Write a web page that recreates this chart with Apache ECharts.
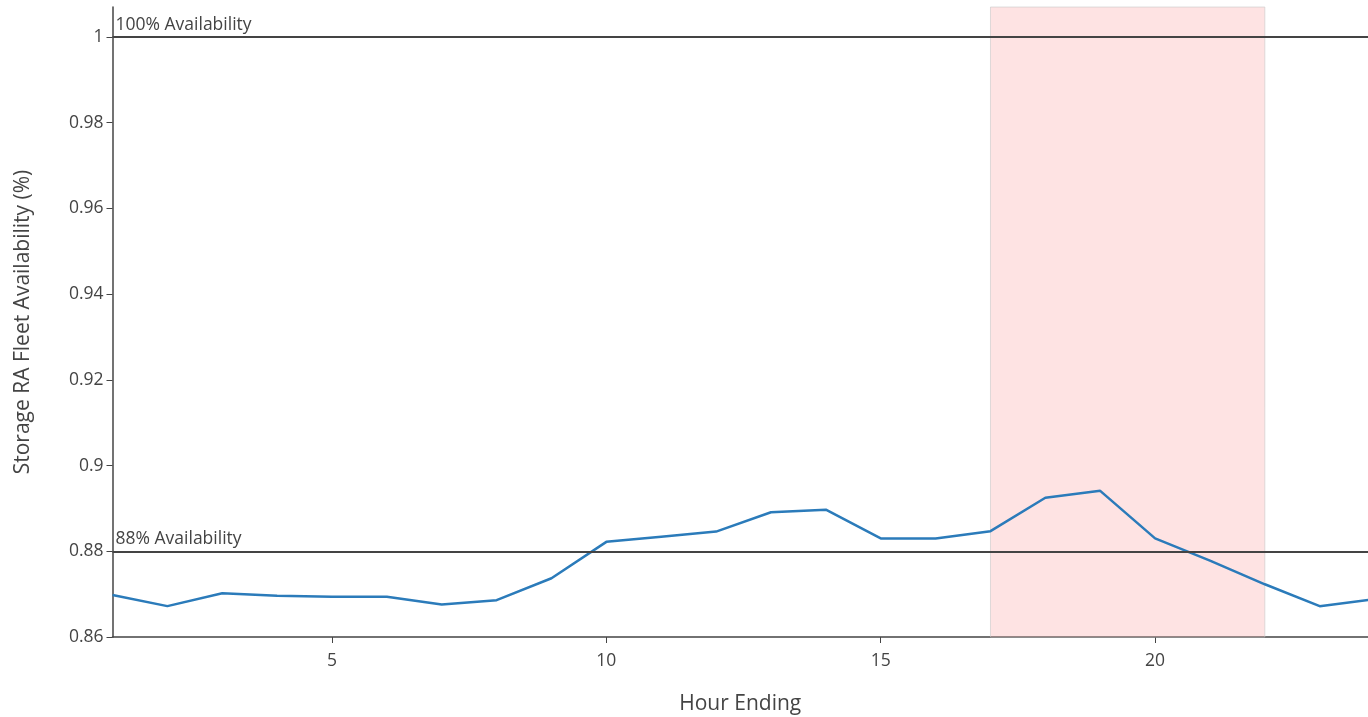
<!DOCTYPE html>
<html>
<head>
<meta charset="utf-8">
<script src="https://cdn.jsdelivr.net/npm/echarts@6/dist/echarts.min.js"></script>
<style>
html,body{margin:0;padding:0;background:#fff;}
#chart{width:1368px;height:717px;}
</style>
</head>
<body>
<div id="chart"></div>
<script>
const hours = [1,2,3,4,5,6,7,8,9,10,11,12,13,14,15,16,17,18,19,20,21,22,23,24];
const availability = [0.8698,0.8672,0.8702,0.8696,0.8694,0.8694,0.8676,0.8686,0.8737,0.8822,0.8834,0.8846,0.8891,0.8897,0.8830,0.8830,0.8847,0.8925,0.8941,0.8830,0.8778,0.8723,0.8672,0.8688];
const yTicks = [0.86,0.88,0.9,0.92,0.94,0.96,0.98,1];
const xTicks = [5,10,15,20];
const refLines = [{value:1, label:'100% Availability'},{value:0.88, label:'88% Availability'}];
const peakWindow = [17,22];

const font = '"Open Sans", "Noto Sans", sans-serif';
const chart = echarts.init(document.getElementById('chart'));
chart.setOption({
  animation:false,
  grid:{left:112.5,right:0,top:7,bottom:80,containLabel:false,outerBoundsMode:'none'},
  xAxis:{
    type:'value',min:1,max:23.88,
    name:'Hour Ending',nameLocation:'middle',nameGap:57,
    nameTextStyle:{fontFamily:font,fontSize:21,color:'#444'},
    axisLine:{show:true,lineStyle:{color:'#444',width:1.5}},
    axisTick:{show:true,length:6,customValues:xTicks,lineStyle:{color:'#444'}},
    axisLabel:{customValues:xTicks,fontFamily:font,fontSize:17.5,color:'#444',margin:15},
    splitLine:{show:false}
  },
  yAxis:{
    type:'value',min:0.86,max:1.007,
    name:'Storage RA Fleet Availability (%)',nameLocation:'middle',nameGap:79,
    nameTextStyle:{fontFamily:font,fontSize:21,color:'#444'},
    axisLine:{show:true,lineStyle:{color:'#444',width:1.5}},
    axisTick:{show:true,length:6,customValues:yTicks,lineStyle:{color:'#444'}},
    axisLabel:{customValues:yTicks,fontFamily:font,fontSize:17.5,color:'#444',margin:9},
    splitLine:{show:false}
  },
  series:[
    {
      type:'line',z:2,
      data:hours.map((h,i)=>[h,availability[i]]),
      showSymbol:false,symbol:'none',
      lineStyle:{color:'#2b7bba',width:2.5},
      markLine:{
        silent:true,symbol:['none','none'],
        lineStyle:{color:'#444',width:2,type:'solid'},
        label:{show:true,position:'insideStartTop',distance:[3,3],formatter:p=>p.name,
          fontFamily:font,fontSize:17.5,color:'#444'},
        data:refLines.map(r=>({yAxis:r.value,name:r.label}))
      }
    },
    {
      type:'line',z:5,data:[],
      markArea:{
        silent:true,
        itemStyle:{color:'rgba(250,40,40,0.13)',borderColor:'rgba(200,200,200,0.6)',borderWidth:1},
        data:[[{xAxis:peakWindow[0]},{xAxis:peakWindow[1]}]]
      }
    }
  ]
});
</script>
</body>
</html>
